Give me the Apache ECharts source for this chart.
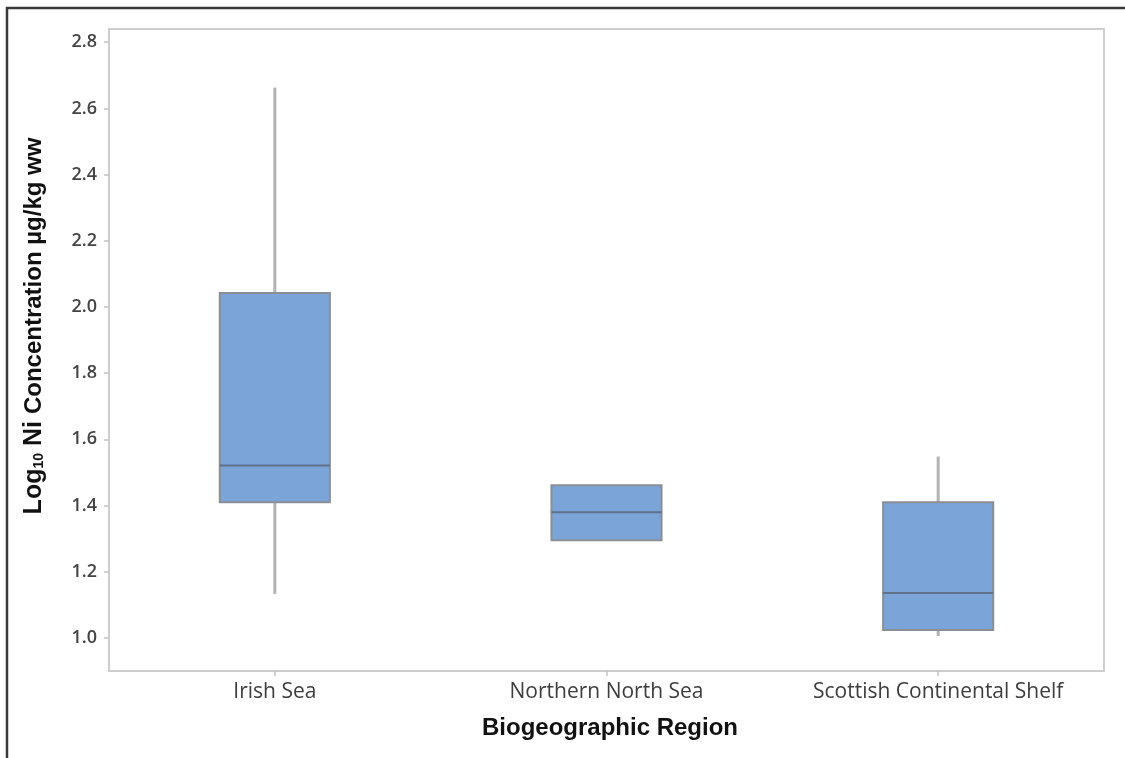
<!DOCTYPE html>
<html>
<head>
<meta charset="utf-8">
<script src="https://cdn.jsdelivr.net/npm/echarts@6/dist/echarts.min.js"></script>
<style>html,body{margin:0;padding:0;background:#fff}#c{width:1125px;height:758px}</style>
</head>
<body>
<div id="c"></div>
<script>
var categories = ['Irish Sea', 'Northern North Sea', 'Scottish Continental Shelf'];
var whiskerLow = [1.133, 1.295, 1.006];
var q1 = [1.41, 1.295, 1.024];
var median = [1.521, 1.38, 1.136];
var q3 = [2.042, 1.461, 1.41];
var whiskerHigh = [2.663, 1.461, 1.548];
var yMin = 0.9, yMax = 2.84;

var data = categories.map(function (c, i) {
  return [i, whiskerLow[i], q1[i], median[i], q3[i], whiskerHigh[i]];
});

function renderBox(params, api) {
  var x = api.value(0);
  var pLow = api.coord([x, api.value(1)]);
  var pQ1 = api.coord([x, api.value(2)]);
  var pMed = api.coord([x, api.value(3)]);
  var pQ3 = api.coord([x, api.value(4)]);
  var pHigh = api.coord([x, api.value(5)]);
  var w = api.size([1, 0])[0] * 0.332;
  var cx = pMed[0];
  var children = [];
  if (pLow[1] - pQ1[1] > 0.5) {
    children.push({ type: 'line', shape: { x1: cx, y1: pQ1[1], x2: cx, y2: pLow[1] },
      style: { stroke: '#b3b3b3', lineWidth: 3 } });
  }
  if (pQ3[1] - pHigh[1] > 0.5) {
    children.push({ type: 'line', shape: { x1: cx, y1: pHigh[1], x2: cx, y2: pQ3[1] },
      style: { stroke: '#b3b3b3', lineWidth: 3 } });
  }
  children.push({ type: 'rect', shape: { x: cx - w / 2, y: pQ3[1], width: w, height: pQ1[1] - pQ3[1] },
    style: { fill: '#7ba5d8', stroke: '#8a8f96', lineWidth: 2 } });
  children.push({ type: 'line', shape: { x1: cx - w / 2, y1: pMed[1], x2: cx + w / 2, y2: pMed[1] },
    style: { stroke: '#627089', lineWidth: 2 } });
  return { type: 'group', children: children };
}

var chart = echarts.init(document.getElementById('c'), null, { renderer: 'canvas' });
chart.setOption({
  animation: false,
  backgroundColor: '#ffffff',
  grid: { left: 109, top: 29, right: 21, bottom: 87, show: true, borderColor: '#cdcdcd', borderWidth: 2, backgroundColor: 'transparent' },
  xAxis: {
    type: 'category',
    data: categories,
    axisLine: { show: true, lineStyle: { color: '#cdcdcd', width: 2 } },
    axisTick: { show: true, alignWithLabel: true, length: 5, lineStyle: { color: '#c4c4c4', width: 1.5 } },
    axisLabel: { margin: 11, fontFamily: 'Open Sans', fontSize: 21, color: '#3d3d3d' },
    splitLine: { show: false }
  },
  yAxis: {
    type: 'value',
    min: yMin,
    max: yMax,
    splitNumber: 10,
    axisLine: { show: true, lineStyle: { color: '#cdcdcd', width: 2 } },
    axisTick: { show: true, length: 5, lineStyle: { color: '#c4c4c4', width: 1.5 } },
    axisLabel: {
      margin: 12, fontFamily: 'Open Sans', fontSize: 18, fontWeight: 600, color: '#444444',
      showMinLabel: false, showMaxLabel: false,
      formatter: function (v) {
        var r = Math.round(v * 10);
        if (Math.abs(v * 10 - r) > 1e-6 || r % 2 !== 0) return '';
        return v.toFixed(1);
      }
    },
    splitLine: { show: false }
  },
  series: [{
    type: 'custom',
    renderItem: renderBox,
    encode: { x: 0, y: [1, 2, 3, 4, 5] },
    data: data
  }],
  graphic: [
    { type: 'line', shape: { x1: 6, y1: 8, x2: 1125, y2: 8 }, style: { stroke: '#3a3a3a', lineWidth: 2.5 }, silent: true },
    { type: 'line', shape: { x1: 7, y1: 7, x2: 7, y2: 758 }, style: { stroke: '#3a3a3a', lineWidth: 2.5 }, silent: true },
    {
      type: 'text', x: 610, y: 728, silent: true,
      style: { text: 'Biogeographic Region', fontFamily: 'Liberation Sans', fontWeight: 'bold', fontSize: 24, fill: '#111', align: 'center', verticalAlign: 'middle' }
    },
    {
      type: 'text', x: 34, y: 326, rotation: Math.PI / 2, silent: true,
      style: {
        text: '{a|Log}{s|10}{a| Ni }{b|Concentration µg/kg ww}',
        align: 'center', verticalAlign: 'middle',
        rich: {
          a: { fontFamily: 'Liberation Sans', fontWeight: 'bold', fontSize: 25, fill: '#111' },
          s: { fontFamily: 'Liberation Sans', fontWeight: 'bold', fontSize: 14, fill: '#111', verticalAlign: 'bottom', padding: [11, 0, 0, 0] },
          b: { fontFamily: 'Liberation Sans', fontWeight: 'bold', fontSize: 24, fill: '#111' }
        }
      }
    }
  ]
});
</script>
</body>
</html>
